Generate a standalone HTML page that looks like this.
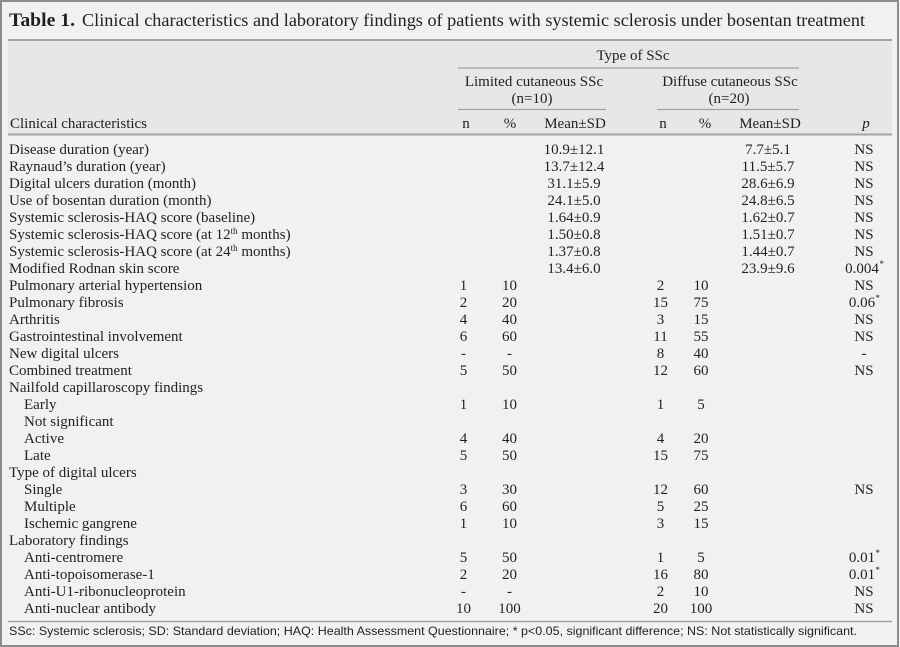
<!DOCTYPE html>
<html>
<head>
<meta charset="utf-8">
<style>
html,body{margin:0;padding:0;background:#f1f1f1;}
svg{display:block;}
.t{font-family:"Liberation Serif",serif;font-size:15px;fill:#231f20;}
.c{text-anchor:middle;}
.fn{font-family:"Liberation Sans",sans-serif;font-size:12px;fill:#231f20;}
</style>
</head>
<body>
<svg width="900" height="647" viewBox="0 0 900 647" xmlns="http://www.w3.org/2000/svg">
<rect x="0" y="0" width="900" height="647" fill="#f1f1f1"/>
<rect x="8" y="41" width="884" height="93" fill="#e6e7e9"/>
<rect x="1" y="1" width="897" height="645" fill="none" stroke="#8c8c8c" stroke-width="2"/>
<!-- title -->
<text x="9" y="26" font-family="Liberation Serif,serif" font-size="19" font-weight="bold" fill="#231f20" textLength="66" lengthAdjust="spacingAndGlyphs">Table 1.</text>
<text x="82" y="26" font-family="Liberation Serif,serif" font-size="18" fill="#231f20" textLength="783" lengthAdjust="spacingAndGlyphs">Clinical characteristics and laboratory findings of patients with systemic sclerosis under bosentan treatment</text>
<!-- lines -->
<line x1="8" y1="40" x2="892" y2="40" stroke="#a3a3a3" stroke-width="2"/>
<line x1="8" y1="134.5" x2="892" y2="134.5" stroke="#a3a3a3" stroke-width="2"/>
<line x1="8" y1="621.5" x2="892" y2="621.5" stroke="#a3a3a3" stroke-width="1.5"/>
<line x1="458" y1="68" x2="799" y2="68" stroke="#a3a3a3" stroke-width="1.3"/>
<line x1="458" y1="109.5" x2="606" y2="109.5" stroke="#a3a3a3" stroke-width="1.3"/>
<line x1="657" y1="109.5" x2="799" y2="109.5" stroke="#a3a3a3" stroke-width="1.3"/>
<!-- header -->
<text class="t c" x="633" y="60">Type of SSc</text>
<text class="t c" x="534" y="86">Limited cutaneous SSc</text>
<text class="t c" x="532" y="103">(n=10)</text>
<text class="t c" x="730" y="86">Diffuse cutaneous SSc</text>
<text class="t c" x="729" y="103">(n=20)</text>
<text class="t" x="10" y="128">Clinical characteristics</text>
<text class="t c" x="466" y="128">n</text>
<text class="t c" x="510" y="128">%</text>
<text class="t c" x="575" y="128">Mean±SD</text>
<text class="t c" x="663" y="128">n</text>
<text class="t c" x="705" y="128">%</text>
<text class="t c" x="770" y="128">Mean±SD</text>
<text class="t c" x="866" y="128" font-style="italic">p</text>
<!-- body rows -->
<g class="t">
<text x="9" y="154">Disease duration (year)</text>
<text x="9" y="171">Raynaud’s duration (year)</text>
<text x="9" y="188">Digital ulcers duration (month)</text>
<text x="9" y="205">Use of bosentan duration (month)</text>
<text x="9" y="222">Systemic sclerosis-HAQ score (baseline)</text>
<text x="9" y="239">Systemic sclerosis-HAQ score (at 12<tspan font-size="9" dy="-5">th</tspan><tspan dy="5"> months)</tspan></text>
<text x="9" y="256">Systemic sclerosis-HAQ score (at 24<tspan font-size="9" dy="-5">th</tspan><tspan dy="5"> months)</tspan></text>
<text x="9" y="273">Modified Rodnan skin score</text>
<text x="9" y="290">Pulmonary arterial hypertension</text>
<text x="9" y="307">Pulmonary fibrosis</text>
<text x="9" y="324">Arthritis</text>
<text x="9" y="341">Gastrointestinal involvement</text>
<text x="9" y="358">New digital ulcers</text>
<text x="9" y="375">Combined treatment</text>
<text x="9" y="392">Nailfold capillaroscopy findings</text>
<text x="24" y="409">Early</text>
<text x="24" y="426">Not significant</text>
<text x="24" y="443">Active</text>
<text x="24" y="460">Late</text>
<text x="9" y="477">Type of digital ulcers</text>
<text x="24" y="494">Single</text>
<text x="24" y="511">Multiple</text>
<text x="24" y="528">Ischemic gangrene</text>
<text x="9" y="545">Laboratory findings</text>
<text x="24" y="562">Anti-centromere</text>
<text x="24" y="579">Anti-topoisomerase-1</text>
<text x="24" y="596">Anti-U1-ribonucleoprotein</text>
<text x="24" y="613">Anti-nuclear antibody</text>
</g>
<!-- mean columns -->
<g class="t c">
<text x="574" y="154">10.9±12.1</text><text x="768" y="154">7.7±5.1</text>
<text x="574" y="171">13.7±12.4</text><text x="768" y="171">11.5±5.7</text>
<text x="574" y="188">31.1±5.9</text><text x="768" y="188">28.6±6.9</text>
<text x="574" y="205">24.1±5.0</text><text x="768" y="205">24.8±6.5</text>
<text x="574" y="222">1.64±0.9</text><text x="768" y="222">1.62±0.7</text>
<text x="574" y="239">1.50±0.8</text><text x="768" y="239">1.51±0.7</text>
<text x="574" y="256">1.37±0.8</text><text x="768" y="256">1.44±0.7</text>
<text x="574" y="273">13.4±6.0</text><text x="768" y="273">23.9±9.6</text>
</g>
<!-- n / % columns -->
<g class="t c">
<text x="463.5" y="290">1</text><text x="509.5" y="290">10</text><text x="660.5" y="290">2</text><text x="701" y="290">10</text>
<text x="463.5" y="307">2</text><text x="509.5" y="307">20</text><text x="660.5" y="307">15</text><text x="701" y="307">75</text>
<text x="463.5" y="324">4</text><text x="509.5" y="324">40</text><text x="660.5" y="324">3</text><text x="701" y="324">15</text>
<text x="463.5" y="341">6</text><text x="509.5" y="341">60</text><text x="660.5" y="341">11</text><text x="701" y="341">55</text>
<text x="463.5" y="358">-</text><text x="509.5" y="358">-</text><text x="660.5" y="358">8</text><text x="701" y="358">40</text>
<text x="463.5" y="375">5</text><text x="509.5" y="375">50</text><text x="660.5" y="375">12</text><text x="701" y="375">60</text>
<text x="463.5" y="409">1</text><text x="509.5" y="409">10</text><text x="660.5" y="409">1</text><text x="701" y="409">5</text>
<text x="463.5" y="443">4</text><text x="509.5" y="443">40</text><text x="660.5" y="443">4</text><text x="701" y="443">20</text>
<text x="463.5" y="460">5</text><text x="509.5" y="460">50</text><text x="660.5" y="460">15</text><text x="701" y="460">75</text>
<text x="463.5" y="494">3</text><text x="509.5" y="494">30</text><text x="660.5" y="494">12</text><text x="701" y="494">60</text>
<text x="463.5" y="511">6</text><text x="509.5" y="511">60</text><text x="660.5" y="511">5</text><text x="701" y="511">25</text>
<text x="463.5" y="528">1</text><text x="509.5" y="528">10</text><text x="660.5" y="528">3</text><text x="701" y="528">15</text>
<text x="463.5" y="562">5</text><text x="509.5" y="562">50</text><text x="660.5" y="562">1</text><text x="701" y="562">5</text>
<text x="463.5" y="579">2</text><text x="509.5" y="579">20</text><text x="660.5" y="579">16</text><text x="701" y="579">80</text>
<text x="463.5" y="596">-</text><text x="509.5" y="596">-</text><text x="660.5" y="596">2</text><text x="701" y="596">10</text>
<text x="463.5" y="613">10</text><text x="509.5" y="613">100</text><text x="660.5" y="613">20</text><text x="701" y="613">100</text>
</g>
<!-- p column -->
<g class="t c">
<text x="864" y="154">NS</text>
<text x="864" y="171">NS</text>
<text x="864" y="188">NS</text>
<text x="864" y="205">NS</text>
<text x="864" y="222">NS</text>
<text x="864" y="239">NS</text>
<text x="864" y="256">NS</text>
<text x="862" y="273">0.004</text>
<text x="864" y="290">NS</text>
<text x="862" y="307">0.06</text>
<text x="864" y="324">NS</text>
<text x="864" y="341">NS</text>
<text x="864" y="358">-</text>
<text x="864" y="375">NS</text>
<text x="864" y="494">NS</text>
<text x="862" y="562">0.01</text>
<text x="862" y="579">0.01</text>
<text x="864" y="596">NS</text>
<text x="864" y="613">NS</text>
</g>
<g font-family="Liberation Serif,serif" font-size="9" fill="#231f20">
<text x="879.5" y="267">*</text>
<text x="875.5" y="301">*</text>
<text x="875.5" y="556">*</text>
<text x="875.5" y="573">*</text>
</g>
<!-- footnote -->
<text class="fn" x="9" y="635" textLength="848" lengthAdjust="spacingAndGlyphs">SSc: Systemic sclerosis; SD: Standard deviation; HAQ: Health Assessment Questionnaire; * p&lt;0.05, significant difference; NS: Not statistically significant.</text>
</svg>
</body>
</html>
